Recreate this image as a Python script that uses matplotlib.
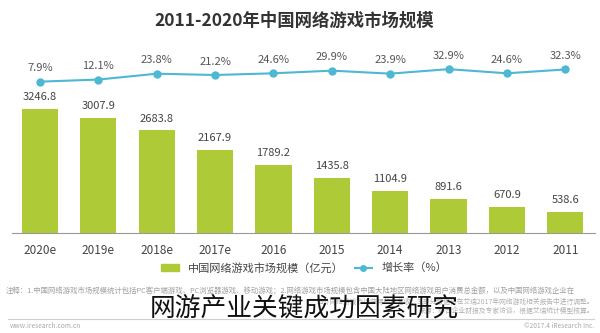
import matplotlib
matplotlib.use("Agg")
import matplotlib.pyplot as plt
from matplotlib.patches import Patch
from matplotlib.lines import Line2D

plt.rcParams['font.family'] = ['Noto Sans CJK SC', 'DejaVu Sans']

# data (left to right as in the picture)
years = ["2020e", "2019e", "2018e", "2017e", "2016", "2015", "2014", "2013", "2012", "2011"]
market = [3246.8, 3007.9, 2683.8, 2167.9, 1789.2, 1435.8, 1104.9, 891.6, 670.9, 538.6]
growth = [7.9, 12.1, 23.8, 21.2, 24.6, 29.9, 23.9, 32.9, 24.6, 32.3]

W, H = 600, 333
fig = plt.figure(figsize=(6, 3.33), dpi=100)
fig.patch.set_facecolor("white")

def fy(py):
    return 1 - py / H

bar_color = "#aecb37"
line_color = "#4db8d3"

# bars
ax = fig.add_axes([12 / W, fy(233), 583 / W, 133 / H])
x = list(range(len(years)))
ax.bar(x, market, width=0.62, color=bar_color)
ax.set_xlim(-0.48, 9.51)
ax.set_ylim(0, 3482)
for xi, v in zip(x, market):
    ax.annotate("%.1f" % v, (xi, v), xytext=(0, 5), textcoords="offset points",
                ha="center", va="bottom", fontsize=8, color="#444444")
for s in ["top", "left", "right"]:
    ax.spines[s].set_visible(False)
ax.spines["bottom"].set_color("#999999")
ax.set_yticks([])
ax.set_xticks(x)
ax.set_xticklabels(years, fontsize=8.5, color="#444444")
ax.tick_params(axis="x", length=0, pad=8)

# growth line
ax2 = fig.add_axes([12 / W, fy(90), 583 / W, 30 / H])
ax2.plot(x, growth, color=line_color, lw=1.5, marker="o", ms=5)
ax2.set_xlim(-0.48, 9.51)
ax2.set_ylim(-8.8, 51.2)
ax2.axis("off")
for xi, g in zip(x, growth):
    ax2.annotate("%.1f%%" % g, (xi, g), xytext=(0, 6), textcoords="offset points",
                 ha="center", va="bottom", fontsize=8, color="#555555")

# title
fig.text(294 / W, fy(21), "2011-2020年中国网络游戏市场规模", ha="center", va="center",
         fontsize=12.5, fontweight="bold", color="#333333")

# legend
handles = [Patch(color=bar_color, label="中国网络游戏市场规模（亿元）"),
           Line2D([0], [0], color=line_color, marker="o", ms=4, lw=1.5, label="增长率（%）")]
fig.legend(handles=handles, loc="center", bbox_to_anchor=(304 / W, fy(268)), ncol=2,
           frameon=False, fontsize=8, handlelength=1.6, columnspacing=1.0,
           labelcolor="#444444")

# notes (partly hidden behind the caption, as in the source)
fig.text(6 / W, fy(291), "注释：1.中国网络游戏市场规模统计包括PC客户端游戏、PC浏览器游戏、移动游戏；"
         "2.网络游戏市场规模包含中国大陆地区网络游戏用户消费总金额，以及中国网络游戏企业在",
         ha="left", va="center", fontsize=5.3, color="#a0a0a0")
fig.text(594 / W, fy(302), "海外网络游戏市场获得的总营收；3.部分数据将在艾瑞2017年网络游戏相关报告中进行调整。",
         ha="right", va="center", fontsize=4.9, color="#b0b0b0")
fig.text(594 / W, fy(311), "来源：综合企业财报及专家访谈，根据艾瑞统计模型核算。",
         ha="right", va="center", fontsize=4.9, color="#b0b0b0")
fig.add_artist(Line2D([8 / W, 594 / W], [fy(319), fy(319)], color="#d0d0d0", lw=0.8))
fig.text(10 / W, fy(326), "www.iresearch.com.cn", ha="left", va="center", fontsize=4.8, color="#aaaaaa")
fig.text(594 / W, fy(326), "©2017.4 iResearch Inc.", ha="right", va="center", fontsize=4.8, color="#aaaaaa")

# caption
fig.text(304 / W, fy(309), "网游产业关键成功因素研究", ha="center", va="center",
         fontsize=18.5, color="#111111")

fig.savefig("out.png", dpi=100)
